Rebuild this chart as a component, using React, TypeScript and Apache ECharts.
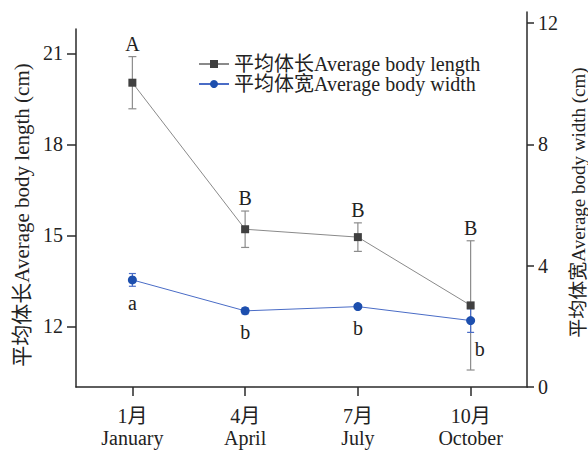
import React, { useEffect, useRef } from "react";
import * as echarts from "echarts";

const months = ["1月\nJanuary", "4月\nApril", "7月\nJuly", "10月\nOctober"];
const lengthMean = [20.03, 15.2, 14.94, 12.69];
const lengthErr = [0.86, 0.6, 0.47, 2.13];
const lengthLetters = ["A", "B", "B", "B"];
const widthMean = [3.53, 2.51, 2.65, 2.19];
const widthErr = [0.21, 0.1, 0.05, 0.39];
const widthLetters = ["a", "b", "b", "b"];
const leftTicks = [12, 15, 18, 21];
const rightTicks = [0, 4, 8, 12];

const seriesNames = ["平均体长Average body length", "平均体宽Average body width"];
const leftTitle = "平均体长Average body length (cm)";
const rightTitle = "平均体宽Average body width (cm)";

// label placement (styles, not data)
const widthLetterDx = [0, 0, 0, 4];
const widthLetterDy = [23, 21, 21, 28];
const widthLetterAlign = ["center", "center", "center", "left"];

const FONT = "'Liberation Serif', 'Times New Roman', 'Noto Sans CJK SC', serif";
const AXIS_COLOR = "#2a2a2a";
const TEXT_COLOR = "#222";
const LEN_MARK = "#404040";
const LEN_LINE = "#8a8a8a";
const LEN_ERR = "#8c8c8c";
const WID_MARK = "#1d4fae";
const WID_LINE = "#4a6cc6";

export default function App() {
  const ref = useRef<HTMLDivElement>(null);
  useEffect(() => {
    document.body.style.margin = "0";
    if (!ref.current) return;
    const chart = echarts.init(ref.current, null, { renderer: "svg" });

    const lengthErrRender = (params: any, api: any) => {
      const i = api.value(0);
      const m = api.value(1);
      const e = api.value(2);
      const top = api.coord([i, m + e]);
      const bot = api.coord([i, m - e]);
      const cap = 4;
      const st = { stroke: LEN_ERR, lineWidth: 1.2 };
      return {
        type: "group",
        children: [
          { type: "line", shape: { x1: top[0], y1: top[1], x2: bot[0], y2: bot[1] }, style: st },
          { type: "line", shape: { x1: top[0] - cap, y1: top[1], x2: top[0] + cap, y2: top[1] }, style: st },
          { type: "line", shape: { x1: bot[0] - cap, y1: bot[1], x2: bot[0] + cap, y2: bot[1] }, style: st },
          {
            type: "text",
            x: top[0],
            y: top[1] - 3,
            style: {
              text: lengthLetters[params.dataIndex],
              align: "center",
              verticalAlign: "bottom",
              fill: TEXT_COLOR,
              font: `20px ${FONT}`,
            },
          },
        ],
      };
    };

    const widthErrRender = (params: any, api: any) => {
      const idx = params.dataIndex;
      const i = api.value(0);
      const m = api.value(1);
      const e = api.value(2);
      const top = api.coord([i, m + e]);
      const bot = api.coord([i, m - e]);
      const mid = api.coord([i, m]);
      const cap = 3.5;
      const st = { stroke: WID_LINE, lineWidth: 1.2 };
      return {
        type: "group",
        children: [
          { type: "line", shape: { x1: top[0], y1: top[1], x2: bot[0], y2: bot[1] }, style: st },
          { type: "line", shape: { x1: top[0] - cap, y1: top[1], x2: top[0] + cap, y2: top[1] }, style: st },
          { type: "line", shape: { x1: bot[0] - cap, y1: bot[1], x2: bot[0] + cap, y2: bot[1] }, style: st },
          {
            type: "text",
            x: mid[0] + widthLetterDx[idx],
            y: mid[1] + widthLetterDy[idx],
            style: {
              text: widthLetters[idx],
              align: widthLetterAlign[idx],
              verticalAlign: "middle",
              fill: TEXT_COLOR,
              font: `20px ${FONT}`,
            },
          },
        ],
      };
    };

    const axisLine = { show: true, lineStyle: { color: AXIS_COLOR, width: 1.5 } };

    chart.setOption({
      animation: false,
      backgroundColor: "#fff",
      textStyle: { fontFamily: FONT },
      grid: [
        { left: 76, right: 61, top: 29, bottom: 63, containLabel: false, outerBoundsMode: "none" },
        { left: 76, right: 61, top: 12, bottom: 63, containLabel: false, outerBoundsMode: "none" },
      ],
      legend: {
        orient: "vertical",
        left: 193,
        top: 49,
        itemWidth: 30,
        itemHeight: 10,
        itemGap: 0,
        data: seriesNames,
        textStyle: { fontFamily: FONT, fontSize: 20, lineHeight: 20, color: TEXT_COLOR },
      },
      xAxis: [
        {
          type: "category",
          gridIndex: 0,
          data: months,
          boundaryGap: true,
          axisLine,
          axisTick: { show: true, alignWithLabel: true, length: 9, lineStyle: { color: AXIS_COLOR, width: 1.5 } },
          axisLabel: { color: TEXT_COLOR, fontFamily: FONT, fontSize: 20, lineHeight: 22, margin: 18 },
        },
        {
          type: "category",
          gridIndex: 1,
          data: months,
          boundaryGap: true,
          show: false,
        },
      ],
      yAxis: [
        {
          type: "value",
          gridIndex: 0,
          position: "left",
          min: 10,
          max: 21.8,
          splitLine: { show: false },
          axisLine,
          axisTick: { show: true, length: 9, customValues: leftTicks, lineStyle: { color: AXIS_COLOR, width: 1.5 } },
          axisLabel: { customValues: leftTicks, color: TEXT_COLOR, fontFamily: FONT, fontSize: 20, margin: 13 },
          name: leftTitle,
          nameLocation: "middle",
          nameRotate: 90,
          nameGap: 44,
          nameTextStyle: { fontFamily: FONT, fontSize: 21, color: TEXT_COLOR, padding: [0, 14, 0, 0] },
        },
        {
          type: "value",
          gridIndex: 1,
          position: "right",
          min: 0,
          max: 12.36,
          splitLine: { show: false },
          axisLine,
          axisTick: { show: true, length: 7, customValues: rightTicks, lineStyle: { color: AXIS_COLOR, width: 1.5 } },
          axisLabel: { customValues: rightTicks, color: TEXT_COLOR, fontFamily: FONT, fontSize: 20, margin: 11 },
          name: rightTitle,
          nameLocation: "middle",
          nameRotate: 90,
          nameGap: 40,
          nameTextStyle: { fontFamily: FONT, fontSize: 19, lineHeight: 19, color: TEXT_COLOR, padding: [0, 6, 0, 0] },
        },
      ],
      series: [
        {
          type: "custom",
          name: "lenErr",
          xAxisIndex: 0,
          yAxisIndex: 0,
          z: 1,
          renderItem: lengthErrRender,
          data: lengthMean.map((m, i) => [i, m, lengthErr[i]]),
          silent: true,
        },
        {
          type: "custom",
          name: "widErr",
          xAxisIndex: 1,
          yAxisIndex: 1,
          z: 1,
          renderItem: widthErrRender,
          data: widthMean.map((m, i) => [i, m, widthErr[i]]),
          silent: true,
        },
        {
          type: "line",
          name: seriesNames[0],
          xAxisIndex: 0,
          yAxisIndex: 0,
          z: 3,
          data: lengthMean,
          symbol: "rect",
          symbolSize: 8,
          lineStyle: { color: LEN_LINE, width: 1 },
          itemStyle: { color: LEN_MARK },
        },
        {
          type: "line",
          name: seriesNames[1],
          xAxisIndex: 1,
          yAxisIndex: 1,
          z: 4,
          data: widthMean,
          symbol: "circle",
          symbolSize: 9,
          lineStyle: { color: WID_LINE, width: 1 },
          itemStyle: { color: WID_MARK },
        },
      ],
    });
    return () => chart.dispose();
  }, []);
  return <div ref={ref} style={{ width: 588, height: 450 }} />;
}
